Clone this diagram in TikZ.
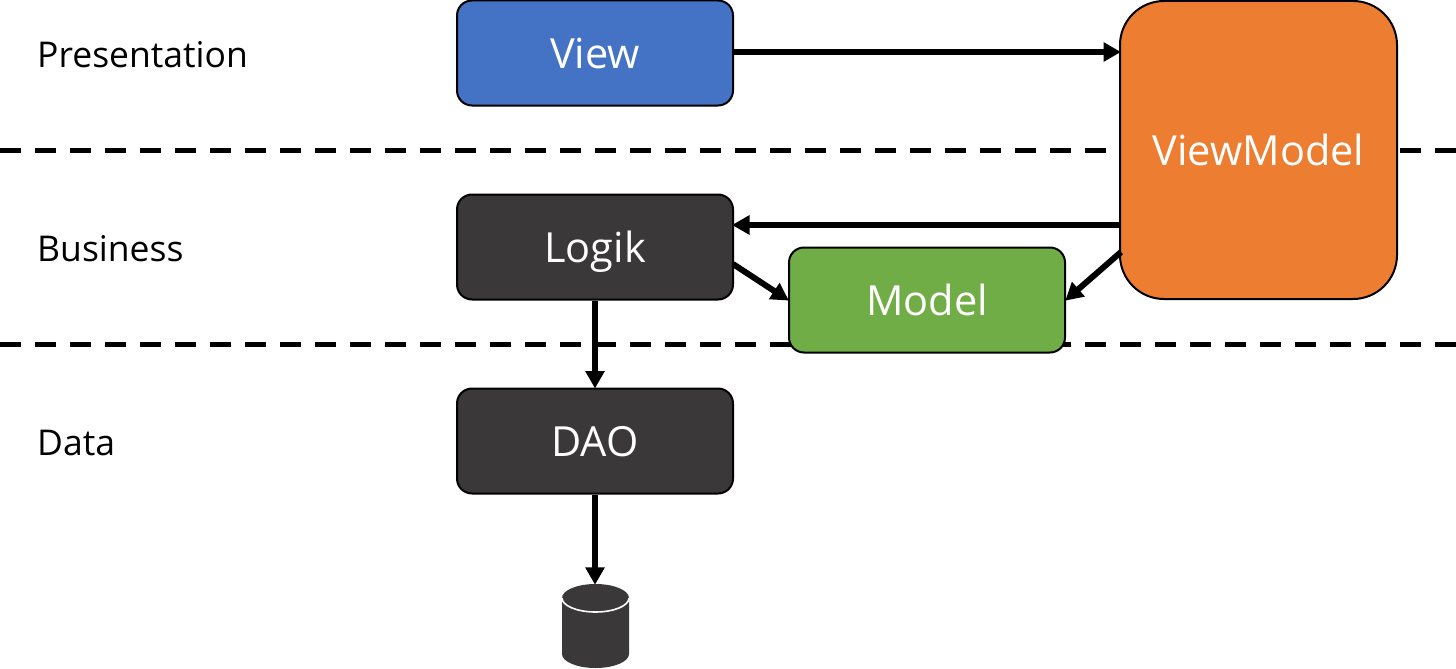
\documentclass[tikz,border=0pt]{standalone}
\usepackage{fontspec}
\setmainfont{Open Sans}
\usetikzlibrary{arrows.meta}
\definecolor{cblue}{HTML}{4472C4}
\definecolor{corange}{HTML}{ED7D31}
\definecolor{cgreen}{HTML}{70AD47}
\definecolor{cdark}{HTML}{3A3838}
\tikzset{
  x=1pt,y=-1pt,
  boxstyle/.style={draw=black,line width=2pt,rounded corners=15pt,minimum width=276pt,minimum height=105pt,inner sep=0pt,text=white,text height=31pt,text depth=0pt,font=\fontsize{41.5}{48}\selectfont},
  layerlabel/.style={anchor=base west,inner sep=0pt,text=black,font=\fontsize{35.5}{42}\selectfont},
  arrowline/.style={line width=6pt,-{Triangle[length=17.5pt,width=18.5pt]},shorten >=-1pt},
  sepline/.style={line width=5.5pt,dash pattern=on 20.5pt off 14.5pt},
}
\begin{document}
\begin{tikzpicture}
\useasboundingbox (0,0) rectangle (1456,669);
\coordinate (sepAL) at (0,150.3); \coordinate (sepAR) at (1456,150.3);
\coordinate (sepBL) at (0,344.3); \coordinate (sepBR) at (1456,344.3);
\draw[sepline] (sepAL) -- (sepAR);
\draw[sepline] (sepBL) -- (sepBR);
\node[layerlabel] (lp) at (37,67) {Presentation};
\node[layerlabel] (lb) at (37,261) {Business};
\node[layerlabel] (ld) at (37,455) {Data};
\node[boxstyle,fill=cblue] (view) at (595,53) {View};
\node[boxstyle,fill=cdark] (logik) at (595,247) {Logik};
\node[boxstyle,fill=cdark] (dao) at (595,441) {DAO};
\node[boxstyle,fill=cgreen] (model) at (927,300) {Model};
\node[boxstyle,fill=corange,minimum width=277pt,minimum height=298pt,rounded corners=44pt] (vm) at (1258.5,150) {ViewModel};
\fill[cdark] (562,598) arc[x radius=33.5,y radius=14,start angle=180,end angle=360] -- (629,654) arc[x radius=33.5,y radius=14,start angle=0,end angle=180] -- cycle;
\fill[cdark] (562,598) arc[x radius=33.5,y radius=14,start angle=180,end angle=0] -- cycle;
\draw[white,line width=1.6pt] (562,598) arc[x radius=33.5,y radius=14,start angle=180,end angle=0];
\node[minimum width=67pt,minimum height=84pt,inner sep=0pt] (db) at (595,626) {};
\coordinate (vmA) at (1120,52);
\coordinate (vmB) at (1120,225);
\coordinate (vmC) at (1121,252);
\coordinate (logikB) at (733,225);
\coordinate (logikC) at (733,264);
\draw[arrowline] (view.east |- vmA) -- (vmA);
\draw[arrowline] (vmB) -- (logikB);
\draw[arrowline] (logikC) -- (model.west);
\draw[arrowline] (vmC) -- (model.east);
\draw[arrowline] (logik.south) -- (dao.north);
\draw[arrowline] (dao.south) -- (db.north);
\end{tikzpicture}
\end{document}
